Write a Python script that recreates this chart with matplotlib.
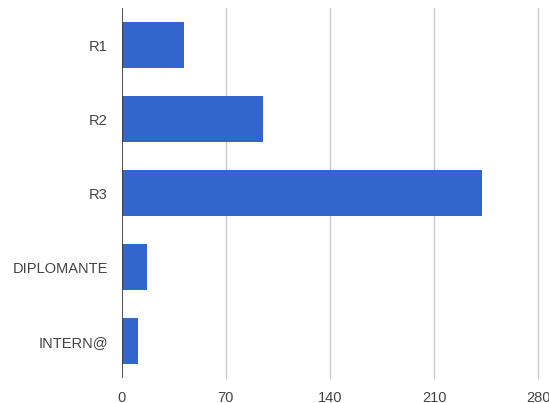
import matplotlib.pyplot as plt

categories = ['R1', 'R2', 'R3', 'DIPLOMANTE', 'INTERN@']
values = [42, 95, 242, 17, 11]
x_ticks = [0, 70, 140, 210, 280]

plt.rcParams['font.family'] = ['Liberation Sans', 'DejaVu Sans']

fig = plt.figure(figsize=(5.49, 4.03), dpi=100)
ax = fig.add_axes([0.2217, 0.062, 0.7588, 0.918])

ax.barh(range(len(categories)), values, height=0.61, color='#3366cc', zorder=3)

ax.set_ylim(len(categories) - 0.5, -0.5)
ax.set_xlim(0, 280)
ax.set_yticks(range(len(categories)))
ax.set_yticklabels(categories)
ax.set_xticks(x_ticks)

# vertical gridlines, incl. the one at the right edge
for t in x_ticks[1:]:
    ax.axvline(t, color='#cccccc', linewidth=1, zorder=0, clip_on=False)
ax.axvline(0, color='#333333', linewidth=1.2, zorder=4)

for side in ['top', 'right', 'bottom', 'left']:
    ax.spines[side].set_visible(False)

ax.tick_params(axis='y', length=0, pad=10, labelsize=10.5, labelcolor='#444444')
ax.tick_params(axis='x', length=0, pad=9, labelsize=10.5, labelcolor='#444444')

fig.savefig('out.png', dpi=100)
